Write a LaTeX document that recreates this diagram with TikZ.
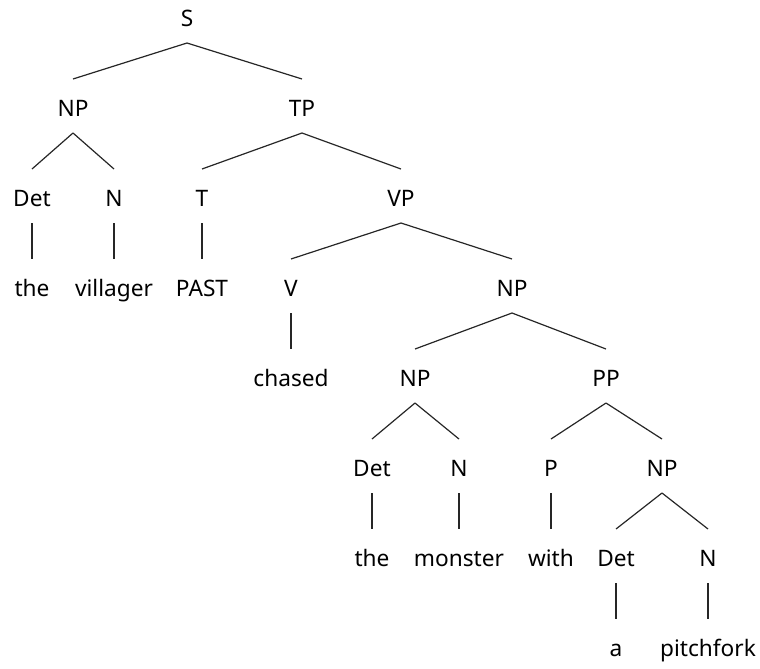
\documentclass[tikz,border=0pt]{standalone}
\usepackage{fontspec}
\setmainfont{Noto Sans}
\begin{document}
\begin{tikzpicture}[x=0.75pt,y=-0.75pt,
  lab/.style={inner sep=0pt,outer sep=0pt,anchor=center,text height=0.714em,text depth=0pt,yshift=-1.5pt,font=\fontsize{17}{20}\selectfont},
  edge/.style={line width=0.9pt,black!85}]
\useasboundingbox (0,0) rectangle (760,668);
\newcommand{\br}[2]{\draw[edge] ([yshift=-15.75pt]#1.center) -- ([yshift=24.75pt]#2.center);}
% level 0
\node[lab] (S) at (187,20) {S};
% level 1
\node[lab] (NPa) at (73,110) {NP};
\node[lab] (TP) at (302,110) {TP};
% level 2
\node[lab] (Deta) at (32,200) {Det};
\node[lab] (Na) at (114,200) {N};
\node[lab] (T) at (202,200) {T};
\node[lab] (VP) at (401,200) {VP};
% level 3
\node[lab] (thea) at (32,290) {the};
\node[lab] (villager) at (114,290) {villager};
\node[lab] (PAST) at (202,290) {PAST};
\node[lab] (V) at (291,290) {V};
\node[lab] (NPb) at (512,290) {NP};
% level 4
\node[lab] (chased) at (291,380) {chased};
\node[lab] (NPc) at (415,380) {NP};
\node[lab] (PP) at (606,380) {PP};
% level 5
\node[lab] (Detb) at (372,470) {Det};
\node[lab] (Nb) at (459,470) {N};
\node[lab] (P) at (551,470) {P};
\node[lab] (NPd) at (662,470) {NP};
% level 6
\node[lab] (theb) at (372,560) {the};
\node[lab] (monster) at (459,560) {monster};
\node[lab] (with) at (551,560) {with};
\node[lab] (Detc) at (616,560) {Det};
\node[lab] (Nc) at (708,560) {N};
% level 7
\node[lab] (a) at (616,650) {a};
\node[lab] (pitchfork) at (708,650) {pitchfork};
% edges
\br{S}{NPa} \br{S}{TP}
\br{NPa}{Deta} \br{NPa}{Na}
\br{TP}{T} \br{TP}{VP}
\br{Deta}{thea} \br{Na}{villager} \br{T}{PAST}
\br{VP}{V} \br{VP}{NPb}
\br{V}{chased}
\br{NPb}{NPc} \br{NPb}{PP}
\br{NPc}{Detb} \br{NPc}{Nb}
\br{PP}{P} \br{PP}{NPd}
\br{Detb}{theb} \br{Nb}{monster} \br{P}{with}
\br{NPd}{Detc} \br{NPd}{Nc}
\br{Detc}{a} \br{Nc}{pitchfork}
\end{tikzpicture}
\end{document}
